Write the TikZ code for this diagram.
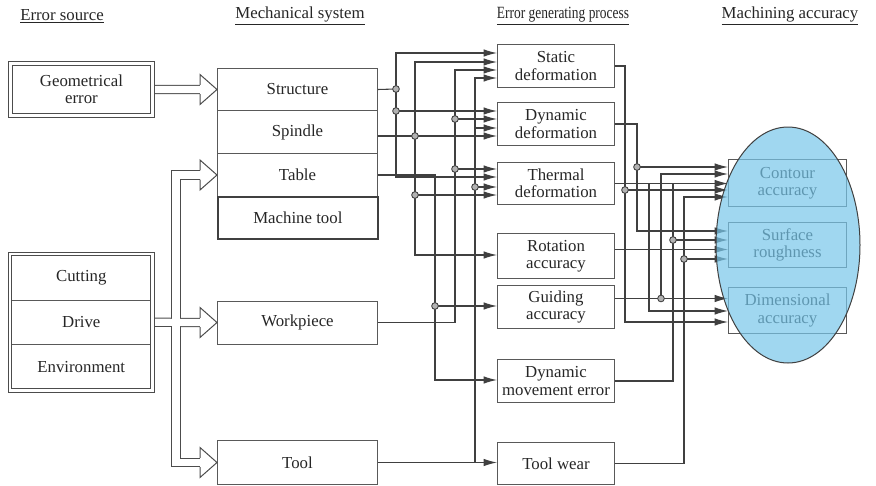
\documentclass[tikz,border=0pt]{standalone}
\usepackage{fontspec}
\setmainfont{Liberation Serif}
\usetikzlibrary{arrows.meta,fit,calc,shapes.geometric}
\definecolor{ellblue}{HTML}{77C6EA}
\newcommand\hollowhead[1]{%
 \fill[white] ($(#1)+(-17,-15)$) -- (#1) -- ($(#1)+(-17,15)$) -- cycle;
 \draw[black!70, line width=0.75pt] ($(#1)+(-17,-4.6)$) -- ($(#1)+(-17,-15)$) -- (#1) -- ($(#1)+(-17,15)$) -- ($(#1)+(-17,4.6)$);}
\begin{document}
\begin{tikzpicture}[x=0.75pt,y=-0.75pt,
  font=\fontsize{12.6}{12.9}\selectfont,
  sz/.style 2 args={minimum width={#1*0.75pt}, minimum height={#2*0.75pt}},
  bx/.style={draw=black!65, line width=0.75pt, inner sep=0pt, align=center, anchor=north west, text=black!85},
  tx/.style={inner sep=0pt, align=center, anchor=north west, text=black!85},
  dbl/.style={draw=black!70, double=white, double distance=2.2pt, line width=0.65pt},
  wire/.style={draw=black!75, line width=0.8pt},
  ar/.style={wire, -{Latex[length=10pt,width=5.6pt]}},
  ar2/.style={wire, {Latex[length=10pt,width=5.6pt]}-{Latex[length=10pt,width=5.6pt]}},
  jdot/.style={circle, draw=black!75, fill=black!30, line width=0.65pt, inner sep=0pt, minimum size=5pt},
  hdr/.style={text=black!85}]
\useasboundingbox (0,0) rectangle (876,486);

% headers
\node[hdr] (h1) at (62,16) {\underline{Error source}};
\node[hdr] (h2) at (300,16) {\underline{Mechanical system}};
\node[hdr] (h3) at (563,16) {\scalebox{0.8}[1.02]{\underline{Error generating process}}};
\node[hdr] (h4) at (790,16) {\underline{Machining accuracy}};

% error sources
\node[bx, dbl, sz={142}{52}] (geo) at (10,63) {Geometrical\\error};
\node[tx, sz={142}{46}] (cutting) at (10,254) {Cutting};
\node[tx, sz={142}{44}] (drive) at (10,300) {Drive};
\node[tx, sz={142}{46}] (environment) at (10,344) {Environment};
\draw[draw=black!65, line width=0.75pt] (cutting.south west) -- (cutting.south east);
\draw[draw=black!65, line width=0.75pt] (drive.south west) -- (drive.south east);
\node[dbl, fit=(cutting)(environment), inner sep=0pt] (esrc) {};

% mechanical system
\node[bx, sz={160}{42}] (structure) at (217,68) {Structure};
\node[bx, sz={160}{43}] (spindle) at (217,110) {Spindle};
\node[bx, sz={160}{43}] (table) at (217,153) {Table};
\node[bx, sz={160}{42}, line width=1.3pt, draw=black!75] (mtool) at (217,196) {Machine tool};
\node[bx, sz={160}{43}] (workpiece) at (217,300.5) {Workpiece};
\node[bx, sz={160}{44}] (tool) at (217,440) {Tool};

% error generating process
\node[bx, sz={117}{43}] (static) at (497,44) {Static\\deformation};
\node[bx, sz={117}{43}] (dyndef) at (497,102) {Dynamic\\deformation};
\node[bx, sz={117}{42}] (thermal) at (497,162) {Thermal\\deformation};
\node[bx, sz={117}{45}] (rotation) at (497,233) {Rotation\\accuracy};
\node[bx, sz={117}{43}] (guiding) at (497,285) {Guiding\\accuracy};
\node[bx, sz={117}{43}] (dynmov) at (497,359) {Dynamic\\movement error};
\node[bx, sz={117}{42}] (toolwear) at (497,442) {Tool wear};

% machining accuracy
\node[bx, sz={118}{47}] (contour) at (728,159) {Contour\\accuracy};
\node[bx, sz={118}{45}] (surface) at (728,222) {Surface\\roughness};
\node[bx, sz={118}{46}] (dimensional) at (728,287) {Dimensional\\accuracy};

% hollow arrows
\coordinate (bus) at (176,322);
\foreach \w/\c in {6.9pt/black!70, 5.4pt/white} {
  \draw[line width=\w, draw=\c] ($(geo.east)+(2.2,0)$) -- ($(structure.west)+(-16,0)$);
  \draw[line width=\w, draw=\c] ($(table.west)+(-16,0)$) -| (bus) |- ($(tool.west)+(-16,0)$);
  \draw[line width=\w, draw=\c] ($(esrc.east |- drive.east)+(2.2,0)$) -- ($(workpiece.west)+(-16,0)$);
}
\hollowhead{structure.west}
\hollowhead{table.west}
\hollowhead{workpiece.west}
\hollowhead{tool.west}

% left wiring coordinates
\coordinate (s1) at (396,53); \coordinate (s2) at (396,177);
\coordinate (sd1) at (396,89); \coordinate (sd2) at (396,111);
\coordinate (p1) at (415,62); \coordinate (p2) at (415,255);
\coordinate (pd1) at (415,136); \coordinate (pd2) at (415,195);
\coordinate (t2) at (435,380); \coordinate (td1) at (435,306);
\coordinate (w1) at (455,70); \coordinate (wd1) at (455,119); \coordinate (wd2) at (455,169);
\coordinate (l1) at (475,78); \coordinate (l0) at (475,462);
\coordinate (ld1) at (475,187); \coordinate (lb1) at (475,128);

% structure
\draw[wire] (structure.east) -- (sd1);
\draw[ar2] (static.west |- s1) -| (s2) -- (thermal.west |- s2);
\draw[ar] (sd2) -- (dyndef.west |- sd2);
% spindle
\draw[wire] (spindle.east |- pd1) -- (pd1);
\draw[ar] (pd1) -- (dyndef.west |- pd1);
\draw[ar2] (static.west |- p1) -| (p2) -- (rotation.west |- p2);
\draw[ar] (pd2) -- (thermal.west |- pd2);
% table
\draw[ar] (table.east) -| (t2) -- (dynmov.west |- t2);
\draw[ar] (td1) -- (guiding.west |- td1);
% workpiece
\draw[ar] (workpiece.east) -| (w1) -- (static.west |- w1);
\draw[ar] (wd1) -- (dyndef.west |- wd1);
\draw[ar] (wd2) -- (thermal.west |- wd2);
% tool
\draw[ar] (tool.east) -- (toolwear.west |- tool.east);
\draw[ar] (l0) -- (l1) -- (static.west |- l1);
\draw[ar] (ld1) -- (thermal.west |- ld1);
\draw[ar] (lb1) -- (dyndef.west |- lb1);

% right wiring coordinates
\coordinate (r1) at (625,322); \coordinate (rd1) at (625,190);
\coordinate (r2) at (637,231); \coordinate (rd2) at (637,167);
\coordinate (r3) at (649,311);
\coordinate (ro) at ($(rotation.east)+(0,-6.5)$);
\coordinate (gu) at ($(guiding.east)+(0,-8.5)$);
\coordinate (r4t) at (661,174);
\coordinate (r5t) at (673,183); \coordinate (rd5) at (673,240);
\coordinate (r6t) at (684,197); \coordinate (rd6) at (684,259);

\draw[ar] (static.east) -| (r1) -- (dimensional.west |- r1);
\draw[ar] (rd1) -- (contour.west |- rd1);
\draw[ar] (dyndef.east) -| (r2) -- (surface.west |- r2);
\draw[ar] (rd2) -- (contour.west |- rd2);
\draw[ar] (thermal.east) -- (contour.west |- thermal.east);
\draw[ar] (thermal.east -| r3) -- (r3) -- (dimensional.west |- r3);
\draw[ar] (ro) -- (surface.west |- ro);
\draw[ar] (gu) -- (dimensional.west |- gu);
\coordinate (rd4) at (gu -| r4t);
\draw[ar] (rd4) -- (r4t) -- (contour.west |- r4t);
\draw[wire] (dynmov.east) -| (r5t);
\draw[ar] (rd5) -- (surface.west |- rd5);
\draw[ar] (toolwear.east) -| (r6t) -- (contour.west |- r6t);
\draw[ar] (rd6) -- (surface.west |- rd6);

% junction dots
\foreach \p in {sd1,sd2,pd1,pd2,td1,wd1,wd2,ld1,rd1,rd2,rd4,rd5,rd6}
  \node[jdot] (dot-\p) at (\p) {};

% ellipse
\node[ellipse, draw=black!75, line width=0.75pt, fill=ellblue, fill opacity=0.7,
      minimum width=108pt, minimum height=177pt, inner sep=0pt] (ell) at (788,245) {};
\end{tikzpicture}
\end{document}
